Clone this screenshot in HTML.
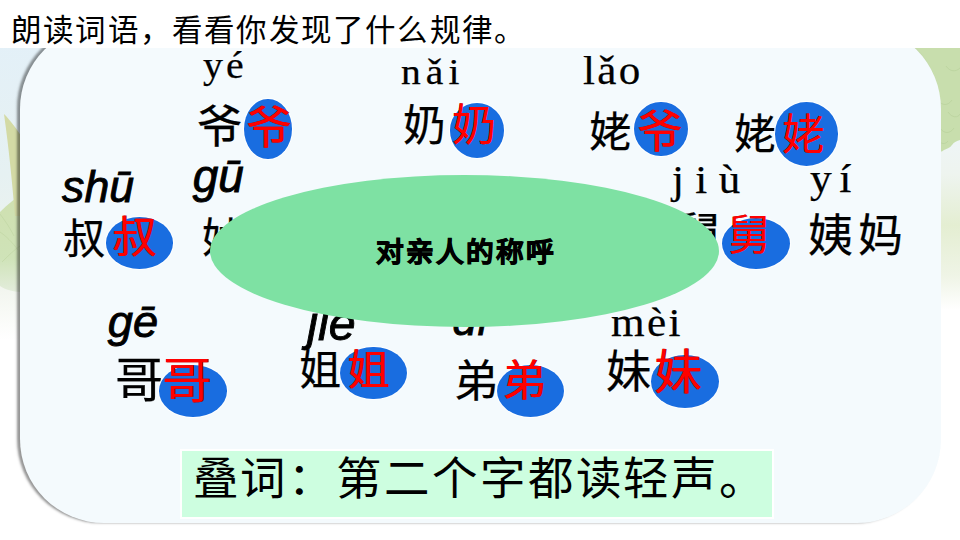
<!DOCTYPE html>
<html lang="zh-CN">
<head>
<meta charset="utf-8">
<title>对亲人的称呼</title>
<style>
html,body{margin:0;padding:0;}
body{width:960px;height:540px;position:relative;overflow:hidden;background:#ffffff;font-family:"Liberation Sans",sans-serif;}
.t{position:absolute;white-space:nowrap;line-height:1;}
#bg{position:absolute;left:0;top:0;width:960px;height:540px;}
#panel{position:absolute;left:20px;top:25px;width:920.5px;height:498px;background:#f4fafd;
  border-radius:84px;box-shadow:-3px -0.5px 2.5px rgba(0,0,0,0.42);}
#band{position:absolute;left:0;top:0;width:960px;height:48px;background:#fff;}
.el{position:absolute;background:#196de0;border-radius:50%;box-shadow:0 0 0 1px rgba(255,255,255,0.9);}
#green{position:absolute;left:210px;top:175px;width:509px;height:152px;border-radius:50%;background:#7ee1a3;}
#box{position:absolute;left:179.5px;top:449px;width:590.5px;height:65.5px;background:#cdfee0;border:2.5px solid #fff;}
</style>
</head>
<body>
<svg id="bg" width="960" height="540" viewBox="0 0 960 540">
  <defs>
    <linearGradient id="lg" gradientUnits="userSpaceOnUse" x1="0" x2="0" y1="40" y2="340">
      <stop offset="0" stop-color="#e3f0f8"/>
      <stop offset="0.45" stop-color="#e6f1f2"/>
      <stop offset="0.8" stop-color="#f0f4ec"/>
      <stop offset="1" stop-color="#ffffff"/>
    </linearGradient>
    <linearGradient id="rg" gradientUnits="userSpaceOnUse" x1="0" x2="0" y1="140" y2="310">
      <stop offset="0" stop-color="#eef5f6"/>
      <stop offset="0.2" stop-color="#eef4ef"/>
      <stop offset="0.5" stop-color="#e4eed2"/>
      <stop offset="0.8" stop-color="#eff4e6"/>
      <stop offset="1" stop-color="#ffffff"/>
    </linearGradient>
    <linearGradient id="l2" gradientUnits="userSpaceOnUse" x1="0" x2="0" y1="195" y2="300">
      <stop offset="0" stop-color="#cfe0b0"/>
      <stop offset="0.6" stop-color="#cfe3b8"/>
      <stop offset="1" stop-color="#e8efe4"/>
    </linearGradient>
  </defs>
  <rect x="0" y="40" width="120" height="300" fill="url(#lg)"/>
  <rect x="860" y="140" width="100" height="170" fill="url(#rg)"/>
  <path d="M0,212 C8,204 16,198 24,192 L24,292 C14,292 6,290 0,286 Z" fill="url(#l2)"/>
  <path d="M4,114 C10,120 16,128 24,140 L24,216 L15,216 C12,180 9,150 4,114 Z" fill="#d3daa5"/>
  <path d="M860,40 L960,40 L960,140 C957,141 954,142 952,145 C950,148 946,149 944,150 C942,152 939,152 936,152 L860,152 Z" fill="#c8dead"/>
  <g fill="none" stroke="#b5cf98" stroke-width="0.8" opacity="0.7">
    <path d="M946,66 C950,72 956,72 960,68"/>
    <path d="M938,100 C942,106 948,106 952,100"/>
    <path d="M948,112 C952,118 958,118 960,114"/>
    <path d="M940,128 C944,134 950,134 954,128"/>
    <path d="M938,140 C941,144 945,145 948,141"/>
  </g>
  <path d="M0,232 C6,236 12,242 18,250 M2,262 C8,256 14,250 20,246 M0,214 C6,222 10,228 14,236" fill="none" stroke="#b9d19c" stroke-width="0.8" opacity="0.6"/>
</svg>
<div id="panel"></div>
<div id="band"></div>
<div class="t" style="left:11.0px;top:14.5px;font-family:'Liberation Sans',sans-serif;font-size:30.50px;letter-spacing:2.20px;color:#000;">朗读词语，看看你发现了什么规律。</div>
<div class="t" style="left:203.0px;top:47.5px;font-family:'Liberation Serif',serif;transform:scaleX(1.08);transform-origin:0 0;-webkit-text-stroke:0.25px #000;font-size:36.91px;letter-spacing:2.86px;color:#000;">yé</div>
<div class="t" style="left:400.8px;top:53.8px;font-family:'Liberation Serif',serif;transform:scaleX(1.08);transform-origin:0 0;-webkit-text-stroke:0.25px #000;font-size:36.59px;letter-spacing:4.73px;color:#000;">nǎi</div>
<div class="t" style="left:582.8px;top:52.2px;font-family:'Liberation Serif',serif;transform:scaleX(1.08);transform-origin:0 0;-webkit-text-stroke:0.25px #000;font-size:39.83px;letter-spacing:2.22px;color:#000;">lǎo</div>
<div class="t" style="left:671.7px;top:160.7px;font-family:'Liberation Serif',serif;transform:scaleX(1.08);transform-origin:0 0;-webkit-text-stroke:0.25px #000;font-size:39.74px;letter-spacing:10.60px;color:#000;">jiù</div>
<div class="t" style="left:809.7px;top:159.4px;font-family:'Liberation Serif',serif;transform:scaleX(1.08);transform-origin:0 0;-webkit-text-stroke:0.25px #000;font-size:40.28px;letter-spacing:6.98px;color:#000;">yí</div>
<div class="t" style="left:611.0px;top:302.7px;font-family:'Liberation Serif',serif;transform:scaleX(1.08);transform-origin:0 0;-webkit-text-stroke:0.25px #000;font-size:39.97px;letter-spacing:2.26px;color:#000;">mèi</div>
<div class="t" style="left:62.1px;top:164.6px;font-family:'Liberation Sans',sans-serif;font-style:italic;-webkit-text-stroke:0.9px #000;font-size:44.65px;letter-spacing:0.00px;color:#000;">shū</div>
<div class="t" style="left:192.7px;top:153.5px;font-family:'Liberation Sans',sans-serif;font-style:italic;-webkit-text-stroke:0.9px #000;font-size:45.93px;letter-spacing:0.00px;color:#000;">gū</div>
<div class="t" style="left:107.8px;top:298.6px;font-family:'Liberation Sans',sans-serif;font-style:italic;-webkit-text-stroke:0.9px #000;font-size:45.26px;letter-spacing:0.00px;color:#000;">gē</div>
<div class="t" style="left:307.3px;top:298.5px;font-family:'Liberation Sans',sans-serif;font-style:italic;-webkit-text-stroke:0.9px #000;font-size:48.32px;letter-spacing:0.00px;color:#000;">jiě</div>
<div class="t" style="left:452.5px;top:299.0px;font-family:'Liberation Sans',sans-serif;font-style:italic;-webkit-text-stroke:0.9px #000;font-size:43.25px;letter-spacing:0.00px;color:#000;">dì</div>
<div class="t" style="left:196.9px;top:104.5px;font-family:'Liberation Sans',sans-serif;-webkit-text-stroke:0.25px currentColor;font-size:45.39px;letter-spacing:0.00px;color:#000;">爷</div>
<div class="t" style="left:403.1px;top:105.2px;font-family:'Liberation Sans',sans-serif;-webkit-text-stroke:0.25px currentColor;font-size:42.71px;letter-spacing:0.00px;color:#000;">奶</div>
<div class="t" style="left:588.8px;top:111.5px;font-family:'Liberation Sans',sans-serif;-webkit-text-stroke:0.25px currentColor;font-size:42.36px;letter-spacing:0.00px;color:#000;">姥</div>
<div class="t" style="left:733.5px;top:113.7px;font-family:'Liberation Sans',sans-serif;-webkit-text-stroke:0.25px currentColor;font-size:42.03px;letter-spacing:0.00px;color:#000;">姥</div>
<div class="t" style="left:62.9px;top:219.3px;font-family:'Liberation Sans',sans-serif;-webkit-text-stroke:0.25px currentColor;font-size:42.23px;letter-spacing:0.00px;color:#000;">叔</div>
<div class="t" style="left:202.0px;top:218.0px;font-family:'Liberation Sans',sans-serif;-webkit-text-stroke:0.25px currentColor;font-size:41.61px;letter-spacing:0.00px;color:#000;">姑</div>
<div class="t" style="left:674.0px;top:211.5px;font-family:'Liberation Sans',sans-serif;-webkit-text-stroke:0.25px currentColor;font-size:47.22px;letter-spacing:0.00px;color:#000;">舅</div>
<div class="t" style="left:808.0px;top:213.9px;font-family:'Liberation Sans',sans-serif;-webkit-text-stroke:0.25px currentColor;font-size:45.00px;letter-spacing:5.00px;color:#000;">姨妈</div>
<div class="t" style="left:115.2px;top:356.0px;font-family:'Liberation Sans',sans-serif;-webkit-text-stroke:0.25px currentColor;font-size:48.25px;letter-spacing:0.00px;color:#000;">哥</div>
<div class="t" style="left:299.0px;top:350.4px;font-family:'Liberation Sans',sans-serif;-webkit-text-stroke:0.25px currentColor;font-size:42.17px;letter-spacing:0.00px;color:#000;">姐</div>
<div class="t" style="left:453.7px;top:360.0px;font-family:'Liberation Sans',sans-serif;-webkit-text-stroke:0.25px currentColor;font-size:44.18px;letter-spacing:0.00px;color:#000;">弟</div>
<div class="t" style="left:606.4px;top:350.0px;font-family:'Liberation Sans',sans-serif;-webkit-text-stroke:0.25px currentColor;font-size:45.21px;letter-spacing:0.00px;color:#000;">妹</div>
<div class="el" style="left:244.0px;top:99.0px;width:47.5px;height:60.0px;"></div>
<div class="el" style="left:450.0px;top:103.3px;width:54.4px;height:54.5px;"></div>
<div class="el" style="left:634.0px;top:101.5px;width:53.8px;height:54.7px;"></div>
<div class="el" style="left:775.0px;top:102.0px;width:62.8px;height:63.5px;"></div>
<div class="el" style="left:105.6px;top:216.7px;width:67.7px;height:52.2px;"></div>
<div class="el" style="left:722.0px;top:217.8px;width:68.0px;height:51.1px;"></div>
<div class="el" style="left:159.0px;top:365.0px;width:67.7px;height:51.5px;"></div>
<div class="el" style="left:340.0px;top:346.6px;width:67.0px;height:52.8px;"></div>
<div class="el" style="left:497.0px;top:364.5px;width:67.0px;height:52.0px;"></div>
<div class="el" style="left:651.0px;top:355.4px;width:68.0px;height:52.9px;"></div>
<div class="t" style="left:246.0px;top:105.6px;font-family:'Liberation Sans',sans-serif;font-size:45.14px;letter-spacing:0.00px;color:#f00;text-shadow:0.8px 0.3px 0 #8a0000;">爷</div>
<div class="t" style="left:451.5px;top:104.4px;font-family:'Liberation Sans',sans-serif;font-size:44.28px;letter-spacing:0.00px;color:#f00;text-shadow:0.8px 0.3px 0 #8a0000;">奶</div>
<div class="t" style="left:637.0px;top:111.0px;font-family:'Liberation Sans',sans-serif;font-size:44.93px;letter-spacing:0.00px;color:#f00;text-shadow:0.8px 0.3px 0 #8a0000;">爷</div>
<div class="t" style="left:781.7px;top:113.7px;font-family:'Liberation Sans',sans-serif;font-size:42.64px;letter-spacing:0.00px;color:#f00;text-shadow:0.8px 0.3px 0 #8a0000;">姥</div>
<div class="t" style="left:111.8px;top:216.1px;font-family:'Liberation Sans',sans-serif;font-size:44.30px;letter-spacing:0.00px;color:#f00;text-shadow:0.8px 0.3px 0 #8a0000;">叔</div>
<div class="t" style="left:727.7px;top:214.9px;font-family:'Liberation Sans',sans-serif;font-size:42.13px;letter-spacing:0.00px;color:#f00;text-shadow:0.8px 0.3px 0 #8a0000;">舅</div>
<div class="t" style="left:162.2px;top:356.0px;font-family:'Liberation Sans',sans-serif;font-size:49.29px;letter-spacing:0.00px;color:#f00;text-shadow:0.8px 0.3px 0 #8a0000;">哥</div>
<div class="t" style="left:347.4px;top:350.4px;font-family:'Liberation Sans',sans-serif;font-size:42.19px;letter-spacing:0.00px;color:#f00;text-shadow:0.8px 0.3px 0 #8a0000;">姐</div>
<div class="t" style="left:502.3px;top:359.1px;font-family:'Liberation Sans',sans-serif;font-size:43.73px;letter-spacing:0.00px;color:#f00;text-shadow:0.8px 0.3px 0 #8a0000;">弟</div>
<div class="t" style="left:654.3px;top:349.1px;font-family:'Liberation Sans',sans-serif;font-size:47.50px;letter-spacing:0.00px;color:#f00;text-shadow:0.8px 0.3px 0 #8a0000;">妹</div>
<div id="green"></div>
<div class="t" style="left:376.4px;top:239.2px;font-family:'Liberation Sans',sans-serif;font-weight:bold;-webkit-text-stroke:0.9px #000;font-size:27.70px;letter-spacing:1.90px;color:#000;">对亲人的称呼</div>
<div id="box"></div>
<div class="t" style="left:192.6px;top:457.2px;font-family:'Liberation Sans',sans-serif;font-size:45.48px;letter-spacing:2.87px;color:#000;">叠词：第二个字都读轻声。</div>
</body>
</html>
